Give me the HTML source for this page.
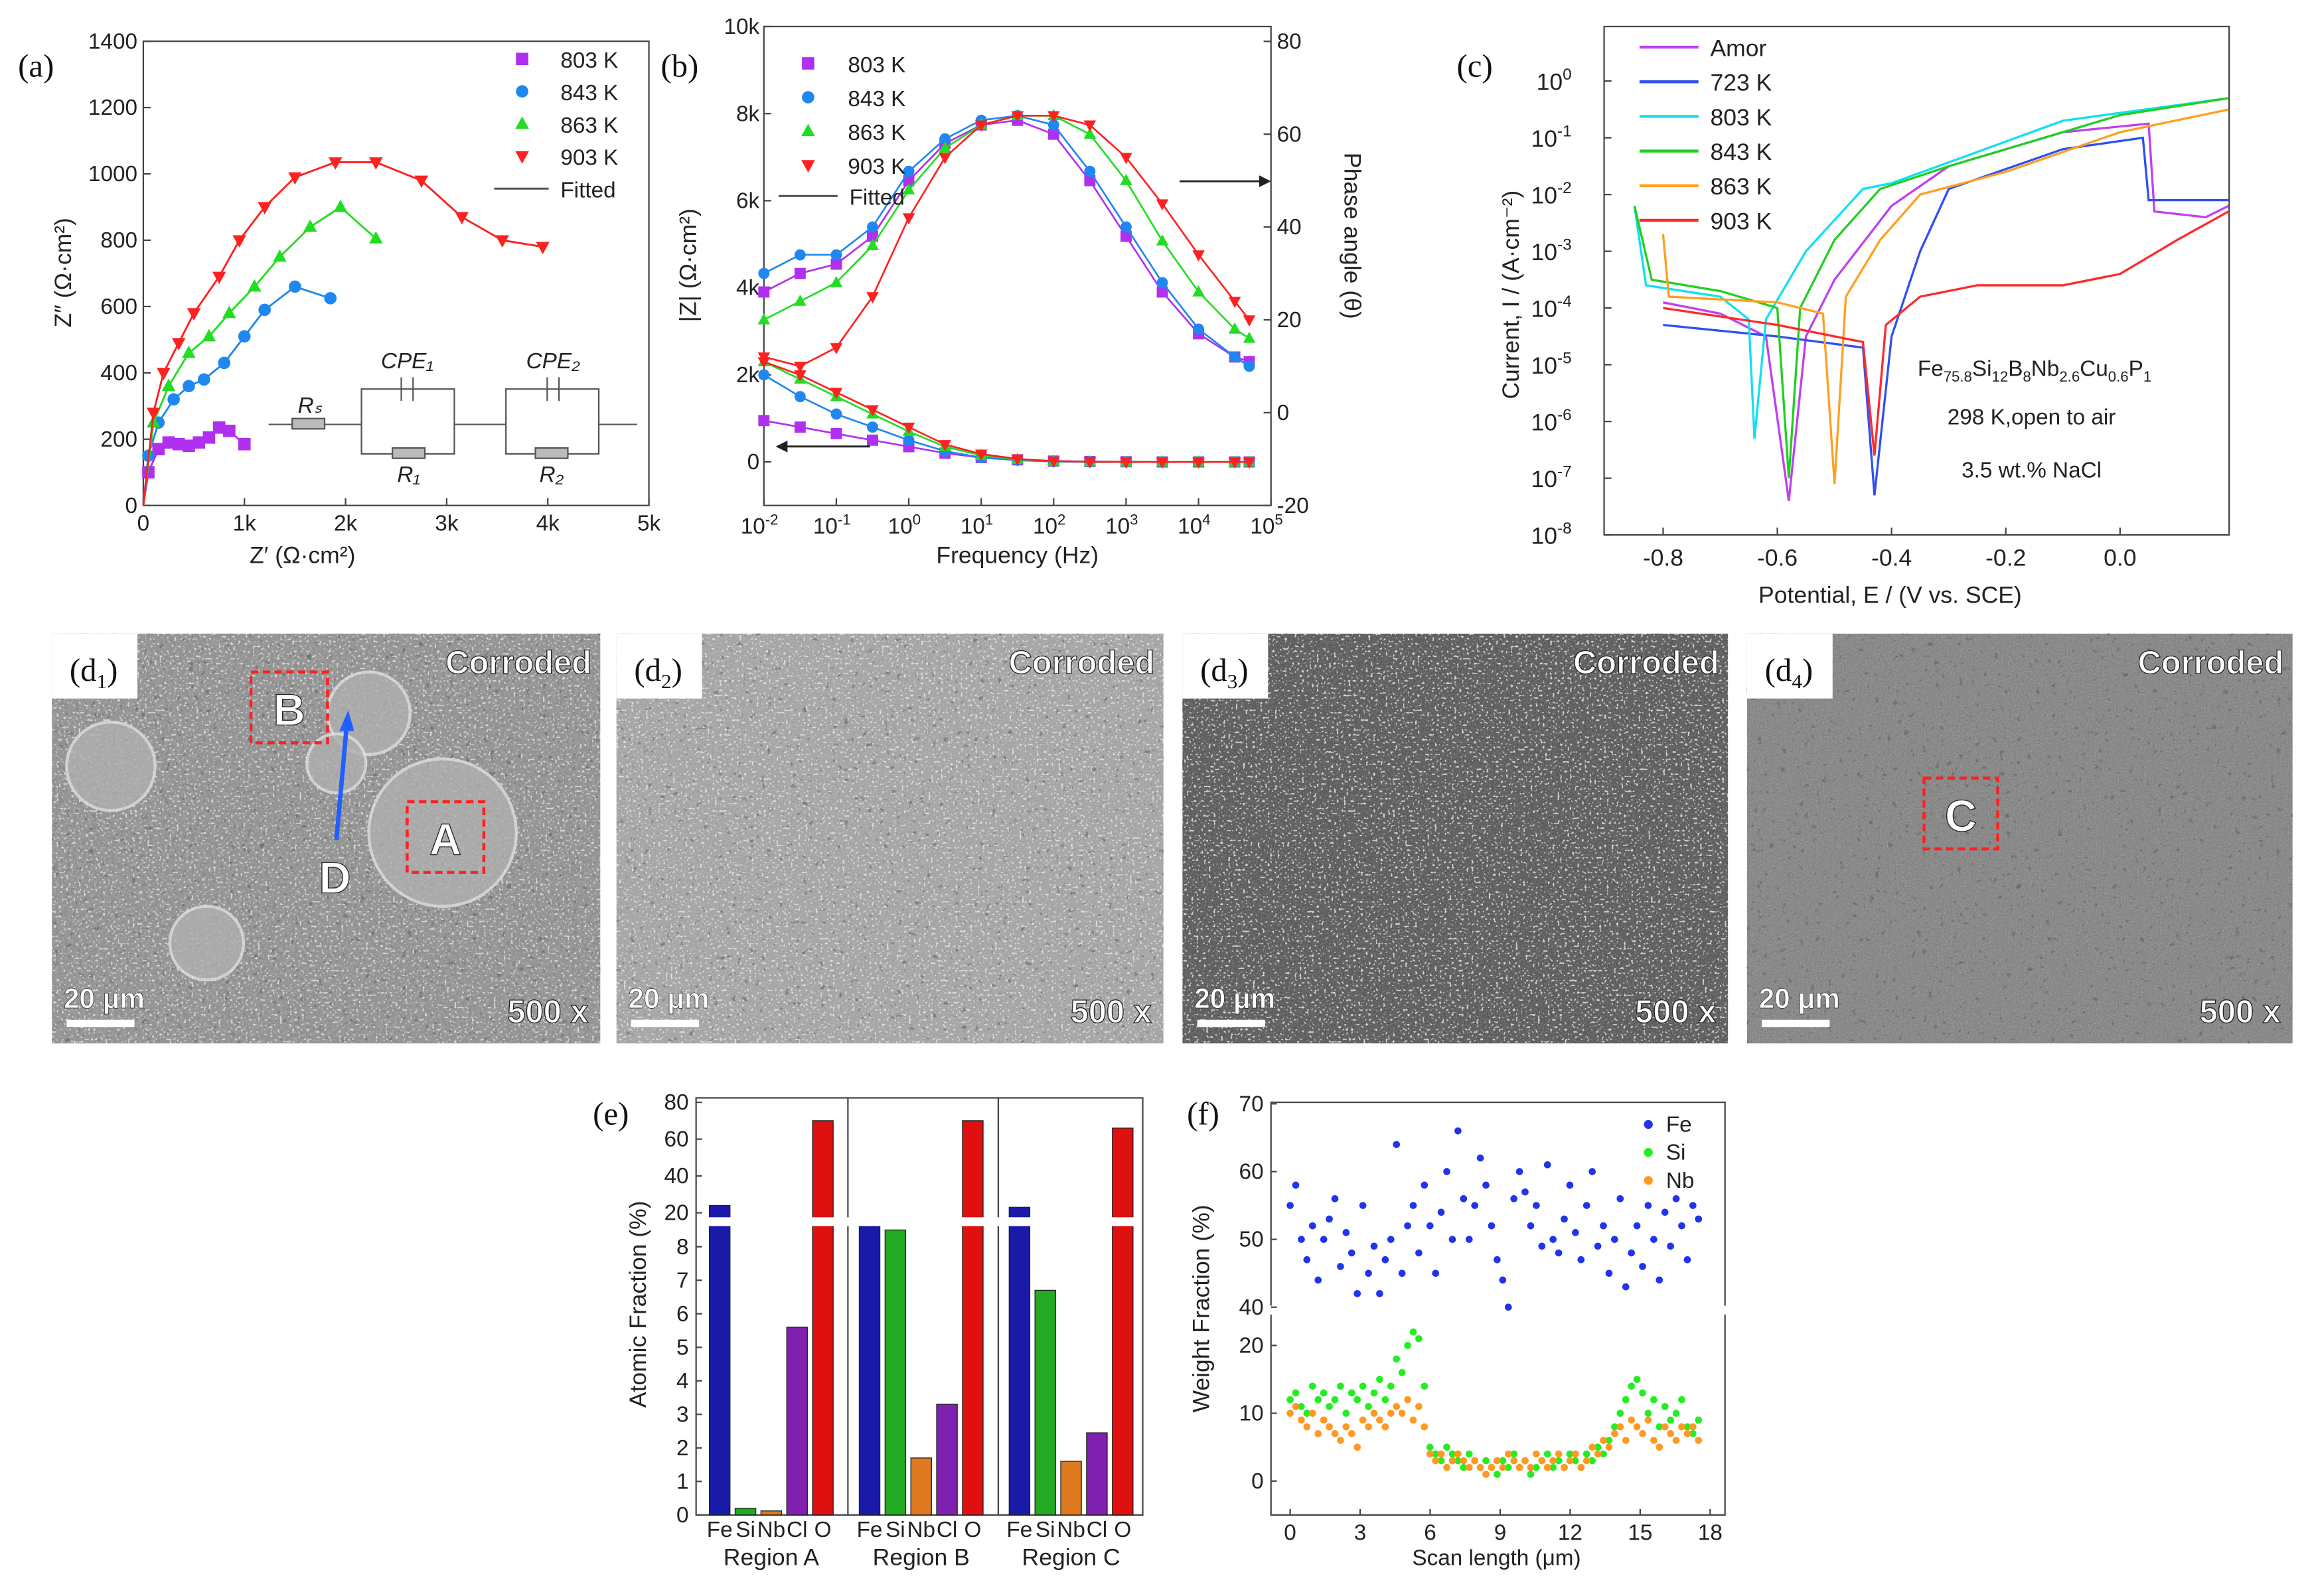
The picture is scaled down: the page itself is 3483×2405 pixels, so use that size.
<!DOCTYPE html>
<html><head><meta charset="utf-8">
<style>
html,body{margin:0;padding:0;background:#fff;}
svg{display:block;font-family:"Liberation Sans",sans-serif;}
.t{font-size:15px;fill:#222;}
.ti{font-size:16px;fill:#222;}
.pl{font-family:"Liberation Serif",serif;font-size:22px;fill:#111;}
.wl{font-weight:bold;fill:#fff;stroke:#222;stroke-width:0.6px;}
</style></head>
<body>
<svg id="fig" width="3483" height="2405" viewBox="0 0 1568 1083" xmlns="http://www.w3.org/2000/svg">
<defs>
<filter id="noise1" x="0" y="0" width="100%" height="100%"><feTurbulence type="fractalNoise" baseFrequency="0.9" numOctaves="2" seed="3"/><feColorMatrix type="saturate" values="0"/><feComponentTransfer><feFuncA type="table" tableValues="0 0.45"/></feComponentTransfer></filter>
<filter id="noise2" x="0" y="0" width="100%" height="100%"><feTurbulence type="fractalNoise" baseFrequency="0.5" numOctaves="3" seed="7"/><feColorMatrix type="saturate" values="0"/><feComponentTransfer><feFuncA type="table" tableValues="0 0.5"/></feComponentTransfer></filter>
<filter id="speck" x="0" y="0" width="100%" height="100%"><feTurbulence type="fractalNoise" baseFrequency="0.6" numOctaves="1" seed="11"/><feColorMatrix type="matrix" values="0 0 0 0 1  0 0 0 0 1  0 0 0 0 1  14 0 0 0 -8.6"/></filter>
<filter id="speck2" x="0" y="0" width="100%" height="100%"><feTurbulence type="fractalNoise" baseFrequency="0.25" numOctaves="2" seed="5"/><feColorMatrix type="matrix" values="0 0 0 0 0.1  0 0 0 0 0.1  0 0 0 0 0.1  -10 0 0 0 3.2"/></filter>
</defs>
<g id="root"></g>
</svg>
<script>
// ===== Panel (a) data =====
const aSeries = ['803 K','843 K','863 K','903 K'];
const aX803 = [0.05,0.15,0.25,0.35,0.45,0.55,0.65,0.75,0.85,1.0];
const aY803 = [100,170,190,185,180,190,205,235,225,185];
const aX843 = [0.05,0.15,0.3,0.45,0.6,0.8,1.0,1.2,1.5,1.85];
const aY843 = [150,250,320,360,380,430,510,590,660,625];
const aX863 = [0.1,0.25,0.45,0.65,0.85,1.1,1.35,1.65,1.95,2.3];
const aY863 = [250,360,460,510,580,660,750,840,900,805];
const aX903 = [0.1,0.2,0.35,0.5,0.75,0.95,1.2,1.5,1.9,2.3,2.75,3.15,3.55,3.95];
const aY903 = [280,400,490,580,690,800,900,990,1035,1035,980,870,800,780];
const aXTicks = [0,1,2,3,4,5];
const aXTickLabels = ['0','1k','2k','3k','4k','5k'];
const aYTicks = [0,200,400,600,800,1000,1200,1400];
// ===== Panel (b) data =====
const bFreqLog = [-2,-1.5,-1,-0.5,0,0.5,1,1.5,2,2.5,3,3.5,4,4.5,4.7];
const bZ803 = [950,800,650,500,350,200,100,50,20,10,5,0,0,0,0];
const bZ843 = [2000,1500,1100,800,500,250,100,40,10,0,0,0,0,0,0];
const bZ863 = [2300,1900,1500,1100,700,350,150,60,20,5,0,0,0,0,0];
const bZ903 = [2300,2000,1600,1200,800,400,180,70,20,5,0,0,0,0,0];
const bP803 = [26,30,32,38,50,58,62,63,60,50,38,26,17,12,11];
const bP843 = [30,34,34,40,52,59,63,64,62,52,40,28,18,12,10];
const bP863 = [20,24,28,36,48,57,62,64,64,60,50,37,26,18,16];
const bP903 = [12,10,14,25,42,55,62,64,64,62,55,45,34,24,20];
const bZTicks = [0,2000,4000,6000,8000,10000];
const bZTickLabels = ['0','2k','4k','6k','8k','10k'];
const bPTicks = [-20,0,20,40,60,80];
const bXTicks = [-2,-1,0,1,2,3,4,5];
// ===== Panel (c) data =====
const cNames = ['Amor','723 K','803 K','843 K','863 K','903 K'];
const cE_amor = [-0.8,-0.7,-0.62,-0.58,-0.55,-0.5,-0.4,-0.3,-0.1,0.05,0.06,0.15,0.19];
const cI_amor = [-3.9,-4.1,-4.5,-7.4,-4.5,-3.5,-2.2,-1.5,-0.9,-0.75,-2.3,-2.4,-2.2];
const cE_723 = [-0.8,-0.6,-0.45,-0.43,-0.4,-0.35,-0.3,-0.1,0.04,0.05,0.19];
const cI_723 = [-4.3,-4.5,-4.7,-7.3,-4.5,-3.0,-1.9,-1.2,-1.0,-2.1,-2.1];
const cE_803 = [-0.85,-0.83,-0.7,-0.65,-0.64,-0.62,-0.55,-0.45,-0.4,-0.1,0.19];
const cI_803 = [-2.2,-3.6,-3.8,-4.2,-6.3,-4.2,-3.0,-1.9,-1.8,-0.7,-0.3];
const cE_843 = [-0.85,-0.82,-0.7,-0.6,-0.58,-0.56,-0.5,-0.42,-0.3,0.0,0.19];
const cI_843 = [-2.2,-3.5,-3.7,-4.0,-7.0,-4.0,-2.8,-1.9,-1.5,-0.6,-0.3];
const cE_863 = [-0.8,-0.79,-0.6,-0.52,-0.5,-0.48,-0.42,-0.35,-0.2,0.0,0.19];
const cI_863 = [-2.7,-3.8,-3.9,-4.1,-7.1,-3.8,-2.8,-2.0,-1.6,-0.9,-0.5];
const cE_903 = [-0.8,-0.6,-0.45,-0.43,-0.41,-0.35,-0.25,-0.1,0.0,0.1,0.19];
const cI_903 = [-4.0,-4.3,-4.6,-6.6,-4.3,-3.8,-3.6,-3.6,-3.4,-2.8,-2.3];
const cXTicks = [-0.8,-0.6,-0.4,-0.2,0.0];
const cXTickLabels = ['-0.8','-0.6','-0.4','-0.2','0.0'];
const cYTicks = [-8,-7,-6,-5,-4,-3,-2,-1,0];
// ===== Panel (e) data =====
const eElements = ['Fe','Si','Nb','Cl','O'];
const eRegions = ['Region A','Region B','Region C'];
const eRegionA = [24,0.2,0.12,5.6,70];
const eRegionB = [16,8.5,1.7,3.3,70];
const eRegionC = [23,6.7,1.6,2.45,66];
const eLowTicks = [0,1,2,3,4,5,6,7,8];
const eHighTicks = [20,40,60,80];
// ===== Panel (f) data =====
const fFe = [55,58,50,47,52,44,50,53,56,46,51,48,42,55,45,49,42,47,50,64,45,52,55,48,58,52,45,54,60,50,66,56,50,55,62,58,52,47,44,40,56,60,57,52,55,49,61,50,48,53,58,51,47,55,60,49,52,45,50,56,43,48,52,46,55,50,44,54,49,56,52,47,55,53];
const fSi = [12,13,11,10,14,12,13,11,12,14,10,13,12,14,11,13,15,12,14,18,16,20,22,21,14,5,4,3,5,4,3,2,4,3,2,3,2,1,3,2,4,2,3,1,2,3,4,2,3,2,4,3,2,4,3,5,4,6,8,10,12,14,15,13,10,12,8,11,9,10,12,8,7,9];
const fNb = [10,11,9,8,10,7,9,8,7,6,8,7,5,9,8,10,9,8,10,11,10,12,9,11,8,4,3,4,2,3,4,3,2,3,2,1,2,3,2,4,3,2,3,2,4,3,2,3,4,2,3,4,2,3,5,4,6,5,7,8,6,9,8,7,9,6,5,8,7,6,8,7,8,6];
const fXTicks = [0,3,6,9,12,15,18];
const fYLow = [0,10,20];
const fYHigh = [40,50,60,70];

const NS='http://www.w3.org/2000/svg';
const root=document.getElementById('root');
function el(tag,attrs,parent,text){const e=document.createElementNS(NS,tag);for(const k in attrs)e.setAttribute(k,attrs[k]);if(text!==undefined)e.textContent=text;(parent||root).appendChild(e);return e;}
function txt(x,y,s,cls,anchor,parent,extra){const t=el('text',Object.assign({x:x,y:y,class:cls||'t','text-anchor':anchor||'middle'},extra||{}),parent,s);return t;}
function marker(g,shape,x,y,c,r){r=r||4.2;
 if(shape==='sq')return el('rect',{x:x-r,y:y-r,width:2*r,height:2*r,fill:c},g);
 if(shape==='ci')return el('circle',{cx:x,cy:y,r:r,fill:c},g);
 if(shape==='tu')return el('polygon',{points:`${x},${y-r*1.2} ${x-r*1.1},${y+r*0.8} ${x+r*1.1},${y+r*0.8}`,fill:c},g);
 return el('polygon',{points:`${x},${y+r*1.2} ${x-r*1.1},${y-r*0.8} ${x+r*1.1},${y-r*0.8}`,fill:c},g);}
function line(g,pts,c,w){return el('polyline',{points:pts.map(p=>p[0].toFixed(1)+','+p[1].toFixed(1)).join(' '),fill:'none',stroke:c,'stroke-width':w||1.4},g);}

const cols=['#b030f0','#1e88f0','#22dd22','#ff2020'];
const shapes=['sq','ci','tu','td'];

// ===== Panel (a) =====
(function(){
 const g=el('g',{});
 const L=97,R=440,T=28,B=343;
 const X=v=>L+(v/5)*(R-L), Y=v=>B-(v/1400)*(B-T);
 el('rect',{x:L,y:T,width:R-L,height:B-T,fill:'none',stroke:'#444','stroke-width':1},g);
 aXTicks.forEach((v,i)=>{el('line',{x1:X(v),y1:B,x2:X(v),y2:B-5,stroke:'#444'},g);txt(X(v),360,aXTickLabels[i],'t','middle',g);});
 aYTicks.forEach(v=>{el('line',{x1:L,y1:Y(v),x2:L+5,y2:Y(v),stroke:'#444'},g);txt(L-4,Y(v)+5,String(v),'t','end',g);});
 const xt=txt(205,382,"Z′ (Ω·cm²)",'ti','middle',g);
 const yt=txt(0,0,"Z″ (Ω·cm²)",'ti','middle',g,{transform:'translate(48,185) rotate(-90)'});
 txt(12,52,'(a)','pl','start',g);
 const xs=[aX803,aX843,aX863,aX903], ys=[aY803,aY843,aY863,aY903];
 xs.forEach((xa,s)=>{const sg=el('g',{},g);
  const pts=[[X(0),Y(0)]].concat(xa.map((v,i)=>[X(v),Y(ys[s][i])]));line(sg,pts,cols[s],1.3);
  xa.forEach((v,i)=>marker(sg,shapes[s],X(v),Y(ys[s][i]),cols[s]));});
 const lg=el('g',{},g);
 aSeries.forEach((n,i)=>{marker(lg,shapes[i],354,40+i*22,cols[i]);txt(380,46+i*22,n,'t','start',lg);});
 el('line',{x1:335,y1:128,x2:372,y2:128,stroke:'#555','stroke-width':1.4},lg);txt(380,134,'Fitted','t','start',lg);
 const cg=el('g',{stroke:'#555',fill:'none','stroke-width':1},g);
 el('line',{x1:182,y1:288,x2:245,y2:288},cg);el('rect',{x:198,y:284,width:22,height:7,fill:'#bbb'},cg);
 el('rect',{x:245,y:264,width:63,height:44},cg);el('rect',{x:343,y:264,width:63,height:44},cg);
 el('line',{x1:308,y1:288,x2:343,y2:288},cg);el('line',{x1:406,y1:288,x2:432,y2:288},cg);
 el('rect',{x:266,y:304,width:22,height:7,fill:'#bbb'},cg);el('rect',{x:363,y:304,width:22,height:7,fill:'#bbb'},cg);
 el('line',{x1:272,y1:256,x2:272,y2:272},cg);el('line',{x1:280,y1:256,x2:280,y2:272},cg);
 el('line',{x1:371,y1:256,x2:371,y2:272},cg);el('line',{x1:379,y1:256,x2:379,y2:272},cg);
 [['CPE₁',276,250],['CPE₂',375,250],['Rₛ',210,280],['R₁',277,327],['R₂',374,327]].forEach(a=>txt(a[1],a[2],a[0],'t','middle',g,{'font-style':'italic'}));
})();

// ===== Panel (b) =====
(function(){
 const g=el('g',{});
 const L=518,R=862,T=18,B=343;
 const X=v=>L+(v+2)/7*(R-L), YZ=v=>B-(v+1000)/11000*(B-T), YP=v=>B-(v+20)/103.2*(B-T);
 el('rect',{x:L,y:T,width:R-L,height:B-T,fill:'none',stroke:'#444'},g);
 bXTicks.forEach(v=>{el('line',{x1:X(v),y1:B,x2:X(v),y2:B-5,stroke:'#444'},g);const t=txt(X(v)-3,362,'10','t','middle',g);el('tspan',{dy:-6,'font-size':'10'},t,String(v));});
 bZTicks.forEach((v,i)=>{el('line',{x1:L,y1:YZ(v),x2:L+5,y2:YZ(v),stroke:'#444'},g);txt(L-3,YZ(v)+5,bZTickLabels[i],'t','end',g);});
 bPTicks.forEach(v=>{el('line',{x1:R,y1:YP(v),x2:R-5,y2:YP(v),stroke:'#444'},g);txt(R+4,YP(v)+5,String(v),'t','start',g);});
 txt(690,382,'Frequency (Hz)','ti','middle',g);
 txt(0,0,'|Z| (Ω·cm²)','ti','middle',g,{transform:'translate(472,180) rotate(-90)'});
 txt(0,0,'Phase angle (θ)','ti','middle',g,{transform:'translate(912,160) rotate(90)'});
 txt(448,52,'(b)','pl','start',g);
 const Z=[bZ803,bZ843,bZ863,bZ903],P=[bP803,bP843,bP863,bP903];
 Z.forEach((za,s)=>{const sg=el('g',{},g);
  line(sg,bFreqLog.map((f,i)=>[X(f),YZ(za[i])]),cols[s],1.2);line(sg,bFreqLog.map((f,i)=>[X(f),YP(P[s][i])]),cols[s],1.2);
  bFreqLog.forEach((f,i)=>{marker(sg,shapes[s],X(f),YZ(za[i]),cols[s],3.8);marker(sg,shapes[s],X(f),YP(P[s][i]),cols[s],3.8);});});
 el('line',{x1:530,y1:303,x2:590,y2:303,stroke:'#222','stroke-width':1.3},g);el('polygon',{points:'526,303 534,299 534,307',fill:'#222'},g);
 el('line',{x1:800,y1:123,x2:858,y2:123,stroke:'#222','stroke-width':1.3},g);el('polygon',{points:'862,123 854,119 854,127',fill:'#222'},g);
 const lg=el('g',{},g);
 aSeries.forEach((n,i)=>{marker(lg,shapes[i],548,43+i*23,cols[i]);txt(575,49+i*23,n,'t','start',lg);});
 el('line',{x1:528,y1:133,x2:568,y2:133,stroke:'#555','stroke-width':1.4},lg);txt(576,139,'Fitted','t','start',lg);
})();

// ===== Panel (c) =====
(function(){
 const g=el('g',{});
 const L=1088,R=1512,T=18,B=363;
 const X=v=>1438+v*387.5, Y=v=>B-(v+8)*38.5;
 el('rect',{x:L,y:T,width:R-L,height:B-T,fill:'none',stroke:'#444'},g);
 cXTicks.forEach((v,i)=>{el('line',{x1:X(v),y1:B,x2:X(v),y2:B-5,stroke:'#444'},g);txt(X(v),384,cXTickLabels[i],'ti','middle',g);});
 cYTicks.forEach(v=>{el('line',{x1:L,y1:Y(v),x2:L+5,y2:Y(v),stroke:'#444'},g);const t=txt(L-22,Y(v)+6,'10','ti','end',g);el('tspan',{dy:-7,'font-size':'11'},t,String(v));});
 txt(1282,409,'Potential, E / (V vs. SCE)','ti','middle',g,{'font-size':'19'});
 txt(0,0,'Current, I / (A·cm⁻²)','ti','middle',g,{transform:'translate(1030,200) rotate(-90)','font-size':'19'});
 txt(988,52,'(c)','pl','start',g);
 const cc=['#c040f0','#3050f0','#10e0f0','#20d020','#ffa020','#ff2a2a'];
 const E=[cE_amor,cE_723,cE_803,cE_843,cE_863,cE_903],I=[cI_amor,cI_723,cI_803,cI_843,cI_863,cI_903];
 E.forEach((ea,s)=>{const p=line(g,ea.map((v,i)=>[X(v),Y(I[s][i])]),cc[s],1.5);});
 const lg=el('g',{},g);
 cNames.forEach((n,i)=>{el('line',{x1:1112,y1:32+i*23.5,x2:1152,y2:32+i*23.5,stroke:cc[i],'stroke-width':2},lg);txt(1160,38+i*23.5,n,'ti','start',lg);});
 const t=txt(1380,255,'Fe','t','middle',g);[['75.8','Si'],['12','B'],['8','Nb'],['2.6','Cu'],['0.6','P'],['1','']].forEach(a=>{el('tspan',{dy:4,'font-size':'10'},t,a[0]);if(a[1])el('tspan',{dy:-4},t,a[1]);});
 txt(1378,288,'298 K,open to air','t','middle',g);txt(1378,324,'3.5 wt.% NaCl','t','middle',g);
})();

// ===== SEM panels =====
(function(){
 const P=[[35,407,'#8a8a8a','d₁'],[418,789,'#a2a2a2','d₂'],[802,1172,'#4a4a4a','d₃'],[1185,1555,'#7c7c7c','d₄']];
 P.forEach((p,i)=>{const g=el('g',{});
  const w=p[1]-p[0],y=430,h=278;
  el('rect',{x:p[0],y:y,width:w,height:h,fill:p[2]},g);
  el('rect',{x:p[0],y:y,width:w,height:h,filter:i===0?'url(#noise2)':'url(#noise1)'},g);
  el('rect',{x:p[0],y:y,width:w,height:h,filter:'url(#speck2)',opacity:0.5},g);
  if(i<3) el('rect',{x:p[0],y:y,width:w,height:h,filter:'url(#speck)',opacity:i===2?0.7:0.6},g);
  if(i===0){[[250,484,28],[228,518,20],[75,520,30],[300,565,50],[140,640,25]].forEach(c=>el('circle',{cx:c[0],cy:c[1],r:c[2],fill:'#b0b0b0',stroke:'#e0e0e0','stroke-width':2,opacity:0.8},g));
   el('rect',{x:170,y:456,width:52,height:48,fill:'none',stroke:'#ff2020','stroke-width':2,'stroke-dasharray':'5,3'},g);txt(196,492,'B','wl','middle',g,{style:'font-size:30px'});
   el('rect',{x:276,y:544,width:52,height:48,fill:'none',stroke:'#ff2020','stroke-width':2,'stroke-dasharray':'5,3'},g);txt(302,580,'A','wl','middle',g,{style:'font-size:30px'});
   el('line',{x1:228,y1:570,x2:235,y2:492,stroke:'#2060ff','stroke-width':3},g);el('polygon',{points:'236,482 230,496 240,496',fill:'#2060ff'},g);
   txt(227,606,'D','wl','middle',g,{style:'font-size:30px'});}
  if(i===3){el('rect',{x:1305,y:528,width:50,height:48,fill:'none',stroke:'#ff2020','stroke-width':2,'stroke-dasharray':'5,3'},g);txt(1330,564,'C','wl','middle',g,{style:'font-size:30px'});}
  el('rect',{x:p[0],y:y,width:58,height:44,fill:'#fff'},g);
  const lt=txt(p[0]+12,y+32,'(d','pl','start',g);el('tspan',{dy:5,'font-size':'14'},lt,String(i+1));el('tspan',{dy:-5},lt,')');
  txt(p[1]-6,y+27,'Corroded','wl','end',g,{style:'font-size:22px'});
  txt(p[1]-8,y+h-14,'500 x','wl','end',g,{style:'font-size:22px'});
  txt(p[0]+8,y+h-24,'20 μm','wl','start',g,{style:'font-size:19px;stroke-width:0.3px'});
  el('rect',{x:p[0]+10,y:y+h-16,width:46,height:5,fill:'#fff'},g);
 });
})();

// ===== Panel (e) =====
(function(){
 const g=el('g',{});
 const L=472,R=775,T=745,B=1028;
 const Y=v=>v<=8.6?B-v*22.75:823-(v-20)*1.25;
 el('rect',{x:L,y:T,width:R-L,height:B-T,fill:'none',stroke:'#444'},g);
 [575,677].forEach(x=>el('line',{x1:x,y1:T,x2:x,y2:B,stroke:'#444'},g));
 eLowTicks.forEach(v=>{el('line',{x1:L,y1:Y(v),x2:L+4,y2:Y(v),stroke:'#444'},g);txt(L-5,Y(v)+5,String(v),'t','end',g);});
 eHighTicks.forEach(v=>{el('line',{x1:L,y1:Y(v),x2:L+4,y2:Y(v),stroke:'#444'},g);txt(L-5,Y(v)+5,String(v),'t','end',g);});
 txt(0,0,'Atomic Fraction (%)','ti','middle',g,{transform:'translate(438,885) rotate(-90)'});
 txt(402,763,'(e)','pl','start',g);
 const ec=['#1a1aa8','#22aa22','#e07a20','#8020b0','#e01010'];
 [eRegionA,eRegionB,eRegionC].forEach((vals,r)=>{const x0=L+r*101.7;
  vals.forEach((v,k)=>{const bx=x0+9+k*17.5;const b=el('rect',{x:bx,y:Y(v),width:14,height:B-Y(v),fill:ec[k],stroke:'#222','stroke-width':0.6},g);
   
   txt(bx+7,1043,eElements[k],'t','middle',g,{'font-size':'12'});});
  txt(x0+51,1062,eRegions[r],'ti','middle',g);});
 el('rect',{x:L+1,y:826,width:R-L-2,height:6,fill:'#fff'},g);
})();

// ===== Panel (f) =====
(function(){
 const g=el('g',{});
 const L=862,R=1170,T=748,B=1028;
 const X=v=>875+v*15.83, YH=v=>841-(v-50)*4.6, YL=v=>1005-v*4.6;
 el('rect',{x:L,y:T,width:R-L,height:B-T,fill:'none',stroke:'#444'},g);
 el('rect',{x:L-6,y:886,width:R-L+12,height:6,fill:'#fff'},g);
 fXTicks.forEach(v=>{el('line',{x1:X(v),y1:B,x2:X(v),y2:B-4,stroke:'#444'},g);txt(X(v),1045,String(v),'t','middle',g);});
 fYHigh.forEach(v=>{el('line',{x1:L,y1:YH(v),x2:L+4,y2:YH(v),stroke:'#444'},g);txt(L-5,YH(v)+5,String(v),'t','end',g);});
 fYLow.forEach(v=>{el('line',{x1:L,y1:YL(v),x2:L+4,y2:YL(v),stroke:'#444'},g);txt(L-5,YL(v)+5,String(v),'t','end',g);});
 txt(1015,1062,'Scan length (μm)','t','middle',g);
 txt(0,0,'Weight Fraction (%)','ti','middle',g,{transform:'translate(820,888) rotate(-90)'});
 txt(805,763,'(f)','pl','start',g);
 const n=fFe.length,dx=17.5/(n-1);
 const sf=el('g',{},g);
 const ss=el('g',{},g);
 const sn=el('g',{},g);
 fFe.forEach((v,i)=>el('circle',{cx:X(i*dx),cy:YH(v),r:2.4,fill:'#2233ee'},sf));
 fSi.forEach((v,i)=>el('circle',{cx:X(i*dx),cy:YL(v),r:2.4,fill:'#22ee22'},ss));
 fNb.forEach((v,i)=>el('circle',{cx:X(i*dx),cy:YL(v),r:2.4,fill:'#ff9922'},sn));
 const lg=el('g',{},g);
 [['Fe','#2233ee'],['Si','#22ee22'],['Nb','#ff9922']].forEach((a,i)=>{el('circle',{cx:1118,cy:763+i*19,r:3,fill:a[1]},lg);txt(1130,768+i*19,a[0],'t','start',lg,{'font-size':'13'});});
})();
</script>
</body></html>
